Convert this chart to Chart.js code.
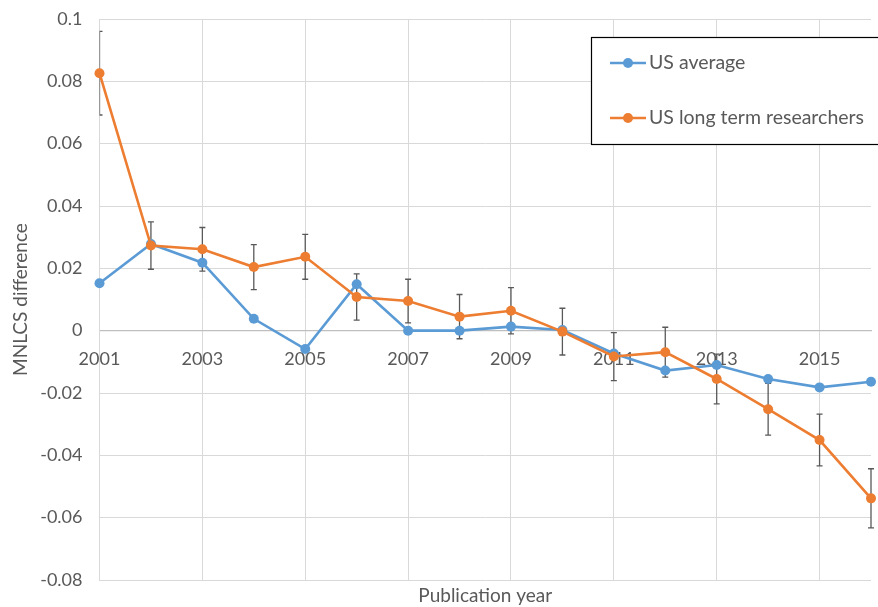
<!DOCTYPE html>
<html>
<head>
<meta charset="utf-8">
<script src="https://cdn.jsdelivr.net/npm/chart.js@4/dist/chart.umd.min.js"></script>
<style>
  html, body { margin: 0; padding: 0; background: #fff; }
  canvas { display: block; }
</style>
</head>
<body>
<canvas id="chart" width="878" height="607"></canvas>
<script>
// Publication years on the category axis
const years = ['2001','2002','2003','2004','2005','2006','2007','2008',
               '2009','2010','2011','2012','2013','2014','2015','2016'];

// MNLCS difference, US average
const usAverage = [0.0152, 0.0278, 0.0218, 0.0038, -0.0059, 0.0149, 0.0000, 0.0000,
                   0.0013, 0.0002, -0.0073, -0.0128, -0.0110, -0.0155, -0.0182, -0.0164];

// MNLCS difference, US long term researchers
const usLongTerm = [0.0826, 0.0273, 0.0261, 0.0204, 0.0237, 0.0108, 0.0095, 0.0045,
                    0.0064, -0.0003, -0.0083, -0.0069, -0.0155, -0.0252, -0.0351, -0.0538];

// Half-width of the error interval for the long term researchers
const usLongTermErr = [0.0134, 0.0076, 0.0070, 0.0072, 0.0072, 0.0074, 0.0070, 0.0071,
                       0.0074, 0.0075, 0.0077, 0.0080, 0.0080, 0.0083, 0.0083, 0.0095];

// Value axis range
const yMin = -0.08, yMax = 0.1, yStep = 0.02;

const FONT = 'Lato, "Open Sans", sans-serif';
const TEXT = '#595959';
const GRID = '#d9d9d9';

// Vertical error bars with small caps, behind the lines
const errorBars = {
  id: 'errorBars',
  beforeDatasetsDraw(chart) {
    const ctx = chart.ctx;
    const meta = chart.getDatasetMeta(1);
    const y = chart.scales.y;
    const area = chart.chartArea;
    ctx.save();
    ctx.beginPath();
    ctx.rect(area.left, 0, chart.width - area.left, chart.height);
    ctx.clip();
    ctx.strokeStyle = '#595959';
    ctx.lineWidth = 1.3;
    meta.data.forEach((pt, i) => {
      const v = usLongTerm[i], e = usLongTermErr[i];
      const top = y.getPixelForValue(v + e);
      const bot = y.getPixelForValue(v - e);
      const x = pt.x;
      ctx.beginPath();
      ctx.moveTo(x, top); ctx.lineTo(x, bot);
      ctx.moveTo(x - 3, top); ctx.lineTo(x + 3, top);
      ctx.moveTo(x - 3, bot); ctx.lineTo(x + 3, bot);
      ctx.stroke();
    });
    ctx.restore();
  }
};

// Boxed legend in the upper right corner
const boxedLegend = {
  id: 'boxedLegend',
  afterDraw(chart) {
    const ctx = chart.ctx;
    const bx = 591, by = 37, bw = 300, bh = 107;
    ctx.save();
    ctx.fillStyle = '#fff';
    ctx.fillRect(bx, by, bw, bh);
    ctx.strokeStyle = '#000';
    ctx.lineWidth = 1.2;
    ctx.strokeRect(bx + 0.5, by + 0.5, bw, bh);
    const rows = [63, 118];
    chart.data.datasets.forEach((ds, i) => {
      const ry = rows[i];
      ctx.strokeStyle = ds.borderColor;
      ctx.lineWidth = 2.5;
      ctx.beginPath();
      ctx.moveTo(610, ry); ctx.lineTo(646, ry);
      ctx.stroke();
      ctx.fillStyle = ds.borderColor;
      ctx.beginPath();
      ctx.arc(628, ry, 5, 0, Math.PI * 2);
      ctx.fill();
      ctx.fillStyle = TEXT;
      ctx.font = '19.5px ' + FONT;
      ctx.textBaseline = 'middle';
      ctx.textAlign = 'left';
      ctx.fillText(ds.label, 649, ry);
    });
    ctx.restore();
  }
};

function noSidePadding(scale) {
  scale.paddingLeft = 0;
  scale.paddingRight = 0;
}

new Chart(document.getElementById('chart'), {
  type: 'line',
  data: {
    labels: years,
    datasets: [
      {
        label: 'US average',
        data: usAverage,
        borderColor: '#5B9BD5',
        backgroundColor: '#5B9BD5',
        borderWidth: 2.6,
        pointRadius: 5,
        pointHoverRadius: 5,
        pointBorderWidth: 0,
        tension: 0,
        clip: false,
        order: 1
      },
      {
        label: 'US long term researchers',
        data: usLongTerm,
        borderColor: '#ED7D31',
        backgroundColor: '#ED7D31',
        borderWidth: 2.6,
        pointRadius: 5,
        pointHoverRadius: 5,
        pointBorderWidth: 0,
        tension: 0,
        clip: false,
        order: 0
      }
    ]
  },
  options: {
    responsive: false,
    animation: false,
    devicePixelRatio: 1,
    layout: { padding: { top: 19, right: 7, bottom: 0, left: 0 } },
    plugins: {
      legend: { display: false },
      tooltip: { enabled: false }
    },
    scales: {
      x: {
        type: 'category',
        position: 'bottom',
        offset: false,
        grid: {
          color: (c) => (c.index % 2 === 0 ? GRID : 'rgba(0,0,0,0)'),
          lineWidth: 1,
          drawTicks: false
        },
        border: { display: false },
        ticks: { display: false },
        title: {
          display: true,
          text: 'Publication year',
          color: TEXT,
          font: { family: FONT, size: 19 },
          padding: { top: 0, bottom: 0 }
        },
        afterFit(scale) { scale.height = 27; noSidePadding(scale); }
      },
      xZero: {
        type: 'category',
        position: { y: 0 },
        offset: false,
        grid: { display: false, drawTicks: false },
        border: { display: true, color: '#bfbfbf', width: 1.3 },
        ticks: {
          color: TEXT,
          font: { family: FONT, size: 18 },
          padding: 18,
          maxRotation: 0,
          autoSkip: false,
          callback(val, i) { return i % 2 === 0 ? years[i] : ''; }
        },
        afterFit: noSidePadding
      },
      y: {
        min: yMin,
        max: yMax,
        grid: { color: GRID, lineWidth: 1, drawTicks: false },
        border: { display: true, color: GRID },
        ticks: {
          stepSize: yStep,
          color: TEXT,
          font: { family: FONT, size: 18 },
          padding: 17,
          callback(v) { return String(Math.round(v * 100) / 100); }
        },
        title: {
          display: true,
          text: 'MNLCS difference',
          color: TEXT,
          font: { family: FONT, size: 19 },
          padding: { top: 9, bottom: 0 }
        },
        afterFit(scale) {
          scale.width = 99.5;
          scale.paddingTop = 0;
          scale.paddingBottom = 0;
        }
      }
    }
  },
  plugins: [errorBars, boxedLegend]
});
</script>
</body>
</html>
